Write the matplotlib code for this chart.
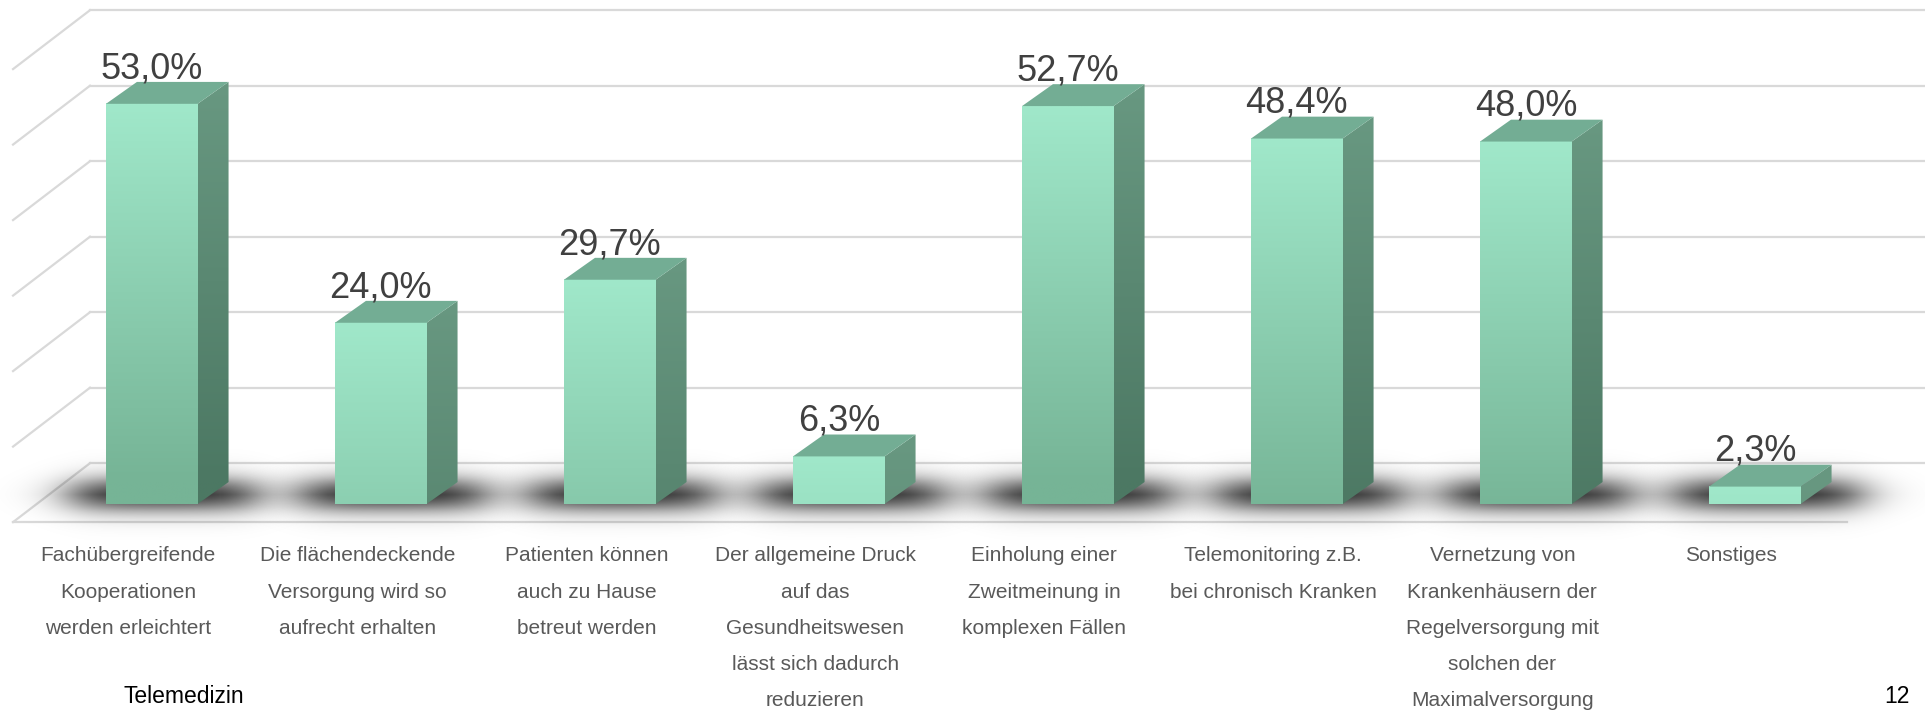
import numpy as np
import matplotlib
matplotlib.use('Agg')
import matplotlib.pyplot as plt
from matplotlib.patches import Polygon

plt.rcParams['font.family'] = ['Liberation Sans', 'DejaVu Sans']

# Daten
labels = ['Fachübergreifende\nKooperationen\nwerden erleichtert',
          'Die flächendeckende\nVersorgung wird so\naufrecht erhalten',
          'Patienten können\nauch zu Hause\nbetreut werden',
          'Der allgemeine Druck\nauf das\nGesundheitswesen\nlässt sich dadurch\nreduzieren',
          'Einholung einer\nZweitmeinung in\nkomplexen Fällen',
          'Telemonitoring z.B.\nbei chronisch Kranken',
          'Vernetzung von\nKrankenhäusern der\nRegelversorgung mit\nsolchen der\nMaximalversorgung',
          'Sonstiges']
values = [53.0, 24.0, 29.7, 6.3, 52.7, 48.4, 48.0, 2.3]
gridvals = [0, 10, 20, 30, 40, 50, 60]

# Geometrie (3D-Look)
bw = 0.2            # halbe Balkenbreite
ddx, ddy = 0.135, 2.9     # Tiefe der Balken
fdx, fdy = 0.336, 7.8     # Tiefe von Boden / Seitenwand
back_y0 = 5.4             # Hoehe der Rueckwand-Null
wall_x = -0.27            # linke Kante der Rueckwand
floor_front = -2.4

fig = plt.figure(figsize=(19.25, 7.11), dpi=100)
ax = fig.add_axes([0, 0, 1, 1])
ax.axis('off')
xlim = (-0.663, 7.743)
ylim = (-27.42, 66.75)

grid_c = '#d9d9d9'
# Rueckwand + Seitenwand
for g in gridvals:
    yb = back_y0 + g
    ax.plot([wall_x, xlim[1] + 0.1], [yb, yb], color=grid_c, lw=1.6, zorder=1)
    ax.plot([wall_x, wall_x - fdx], [yb, yb - fdy], color=grid_c, lw=1.6, zorder=1)
# Boden vorne
ax.plot([wall_x - fdx, 7.403], [floor_front, floor_front], color=grid_c, lw=1.6, zorder=1)

# Schatten
sx = np.linspace(-0.75, 0.75, 240)
sy = np.linspace(-6, 6, 100)
SX, SY = np.meshgrid(sx, sy)
fx = 1 / (1 + np.exp((np.abs(SX) - 0.40) / 0.07))
fy = 1 / (1 + np.exp((np.abs(SY) - 1.7) / 0.85))
shadow = np.zeros(SX.shape + (4,))
shadow[..., 3] = 0.9 * fx * fy

for i, v in enumerate(values):
    cx, cy = i + 0.05, 1.2
    ax.imshow(shadow, extent=(cx - 0.75, cx + 0.75, cy - 6, cy + 6), origin='lower',
              aspect='auto', interpolation='bilinear', zorder=2)

front_top = np.array([160, 232, 202]) / 255
front_bot = np.array([118, 180, 150]) / 255
side_top = np.array([104, 152, 129]) / 255
side_bot = np.array([76, 120, 99]) / 255
top_c = '#73ad94'

for i, v in enumerate(values):
    # Vorderseite mit Verlauf
    n = 100
    t = np.linspace(0, 1, n)  # 0 unten, 1 oben
    depth = (1 - t) * v
    mix = np.clip(depth / 50, 0, 1)[:, None]
    grad = (front_top * (1 - mix) + front_bot * mix)[:, None, :]
    ax.imshow(grad, extent=(i - bw, i + bw, 0, v), origin='lower', aspect='auto',
              interpolation='bilinear', zorder=3)
    # Seitenflaeche
    side = Polygon([(i + bw, 0), (i + bw + ddx, ddy), (i + bw + ddx, v + ddy), (i + bw, v)],
                   closed=True, facecolor='none', edgecolor='none', zorder=3)
    ax.add_patch(side)
    grad2 = (side_top * (1 - mix) + side_bot * mix)[:, None, :]
    im = ax.imshow(grad2, extent=(i + bw, i + bw + ddx, 0, v + ddy), origin='lower',
                   aspect='auto', interpolation='bilinear', zorder=3)
    im.set_clip_path(side)
    # Deckflaeche
    ax.add_patch(Polygon([(i - bw, v), (i + bw, v), (i + bw + ddx, v + ddy), (i - bw + ddx, v + ddy)],
                         closed=True, facecolor=top_c, edgecolor='none', zorder=4))
    # Wert
    ax.text(i, v + ddy + 0.5, f'{v:.1f}%'.replace('.', ','), ha='center', va='baseline',
            fontsize=26, color='#404040', zorder=5)
    # Kategorie
    ax.text(i - 0.1025, -5.6, labels[i], ha='center', va='top', fontsize=15,
            color='#595959', linespacing=2.15, zorder=5)

ax.text(-0.125, -27.0, 'Telemedizin', ha='left', va='bottom', fontsize=16.5, color='black')
ax.text(7.564, -27.0, '12', ha='left', va='bottom', fontsize=16.5, color='black')

ax.set_xlim(*xlim)
ax.set_ylim(*ylim)
fig.savefig('out.png', dpi=100, facecolor='white')
